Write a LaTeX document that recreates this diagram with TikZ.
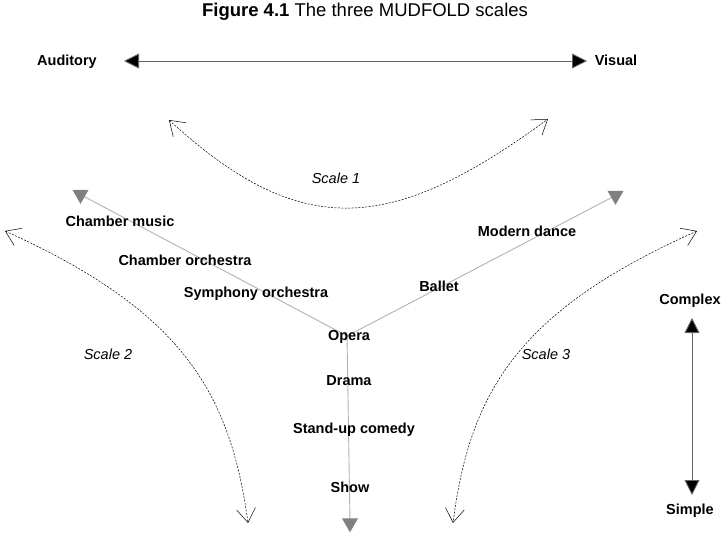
\documentclass[tikz,border=0pt]{standalone}
\usepackage{fontspec}
\setmainfont{Liberation Sans}
\usetikzlibrary{arrows.meta,shapes.geometric}

\tikzset{
  lbl/.style={font=\fontsize{14.5}{17}\selectfont\bfseries, inner sep=1pt},
  scalelbl/.style={font=\fontsize{14.5}{17}\selectfont\itshape, inner sep=1pt},
  axis/.style={draw=black!60, line width=0.9pt, {Triangle[length=15pt,width=15pt,fill=black]}-{Triangle[length=15pt,width=15pt,fill=black]}},
  rail/.style={draw=black!30, line width=0.9pt},
  railtip/.style={regular polygon, regular polygon sides=3, shape border rotate=180,
    fill=black!50, draw=none, minimum size=18.5pt, inner sep=0pt},
  barb/.tip={Straight Barb[length=14pt,width=19pt,line width=0.5pt]},
  scalecurve/.style={line width=0.5pt, dash pattern=on 2pt off 1.4pt, barb-barb}
}

\begin{document}
\begin{tikzpicture}[x=1pt,y=-1pt]
  \useasboundingbox (0,0) rectangle (722,535);

  % Title
  \node (title) at (365,12) {\fontsize{18.5}{21}\selectfont\textbf{Figure 4.1} The three MUDFOLD scales};

  % Auditory -- Visual axis
  \node[lbl, anchor=base] (aud) at (67,65) {Auditory};
  \node[lbl, anchor=base] (vis) at (616,65) {Visual};
  \coordinate (audend) at (124,61);
  \coordinate (visend) at (587,61);
  \draw[axis] (audend) -- (visend);

  % Complex -- Simple axis
  \node[lbl] (cplx) at (690,301) {Complex};
  \node[lbl] (smpl) at (690,511) {Simple};
  \coordinate (cplxend) at (692,318);
  \coordinate (smplend) at (692,495);
  \draw[axis] (cplxend) -- (smplend);

  % The three branches of the Y
  \coordinate (hub) at (347,336);
  \coordinate (endleft) at (80.5,194.6);
  \coordinate (endright) at (615.5,195.5);
  \coordinate (enddown) at (350,523);
  \draw[rail] (hub) -- (endleft);
  \draw[rail] (hub) -- (endright);
  \draw[rail] (hub) -- (enddown);
  \node[railtip] (tipleft) at (endleft) {};
  \node[railtip] (tipright) at (endright) {};
  \node[railtip] (tipdown) at (enddown) {};

  % Labels along the branches
  \node[lbl] (chmusic) at (120,221) {Chamber music};
  \node[lbl] (chorch) at (185,260) {Chamber orchestra};
  \node[lbl] (symph) at (256,294) {Symphony orchestra};
  \node[lbl] (opera) at (349,337) {Opera};
  \node[lbl] (mdance) at (527,231) {Modern dance};
  \node[lbl] (ballet) at (439,286) {Ballet};
  \node[lbl] (drama) at (349,381) {Drama};
  \node[lbl] (standup) at (354,430) {Stand-up comedy};
  \node[lbl] (show) at (350,487) {Show};

  % Scale curves
  \coordinate (s1a) at (169,120);
  \coordinate (s1b) at (548,119);
  \draw[scalecurve] (s1a) .. controls (300,240) and (390,235) .. (s1b);
  \node[scalelbl] (sc1) at (336,178) {Scale 1};

  \coordinate (s2a) at (5,231);
  \coordinate (s2b) at (248,523);
  \draw[scalecurve] (s2a) .. controls (180,310) and (230,390) .. (s2b);
  \node[scalelbl] (sc2) at (108,354) {Scale 2};

  \coordinate (s3a) at (697,231);
  \coordinate (s3b) at (453,523);
  \draw[scalecurve] (s3a) .. controls (520,310) and (470,390) .. (s3b);
  \node[scalelbl] (sc3) at (546,354) {Scale 3};
\end{tikzpicture}
\end{document}
